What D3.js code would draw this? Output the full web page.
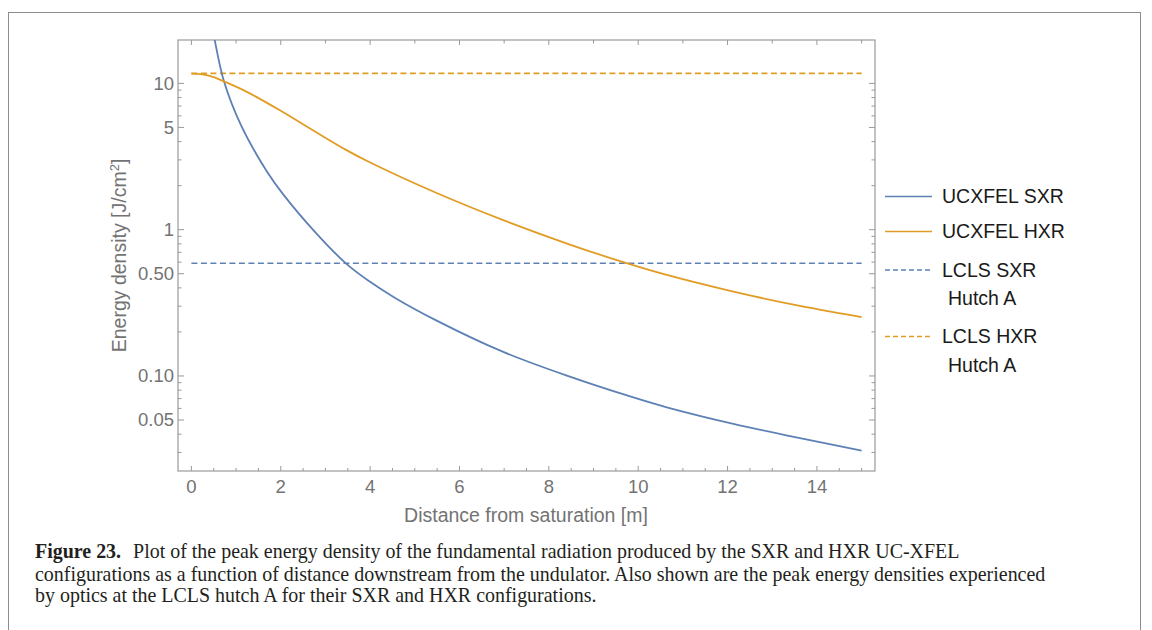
<!DOCTYPE html>
<html lang="en">
<head>
<meta charset="UTF-8">
<title>Peak energy density vs distance from saturation</title>
<script src="https://d3js.org/d3.v7.min.js"></script>
<style>
    body { margin: 0; background: #fff; }
    .tick-label { font-family: "Liberation Sans", Arial, sans-serif; font-size: 18.5px; fill: #737373; }
    .axis-title { font-family: "Liberation Sans", Arial, sans-serif; font-size: 19.5px; fill: #737373; }
    .legend-text { font-family: "Liberation Sans", Arial, sans-serif; font-size: 19.5px; fill: #1a1a1a; }
    .caption { font-family: "Liberation Serif", "Times New Roman", serif; fill: #231f20; }
</style>
</head>
<body>
<svg width="1152" height="630"></svg>
<script>
// distance from saturation [m] and energy density [J/cm^2]
var sxrDist = [0.45, 0.52, 0.73, 1.12, 1.69, 2.05, 2.80, 3.47, 3.99, 4.55, 5.49, 6.98, 8.47, 9.82, 10.64, 12.13, 13.62, 15.0];
var sxrDensity = [26, 19.9, 10.3, 5.1, 2.50, 1.75, 0.94, 0.584, 0.442, 0.343, 0.239, 0.146, 0.0989, 0.0724, 0.061, 0.047, 0.0376, 0.0309];

var hxrDist = [0, 0.25, 0.48, 0.75, 1.23, 1.98, 2.72, 3.47, 3.99, 5.49, 6.98, 8.47, 9.74, 10.64, 12.13, 13.62, 15.0];
var hxrDensity = [11.67, 11.53, 11.09, 10.26, 8.79, 6.55, 4.78, 3.50, 2.89, 1.78, 1.161, 0.791, 0.590, 0.490, 0.377, 0.301, 0.252];

// LCLS hutch A reference levels (flat lines over the whole range)
var lclsDist = [0, 15];
var lclsSxr = 0.59;
var lclsHxr = 11.7;

var xTicks = [0, 2, 4, 6, 8, 10, 12, 14];
var yTicks = [0.05, 0.1, 0.5, 1, 5, 10];
var yTickLabels = ["0.05", "0.10", "0.50", "1", "5", "10"];

var legendNames = [["UCXFEL SXR"], ["UCXFEL HXR"], ["LCLS SXR", "Hutch A"], ["LCLS HXR", "Hutch A"]];

var captionLines = [
    "Plot of the peak energy density of the fundamental radiation produced by the SXR and HXR UC-XFEL",
    "configurations as a function of distance downstream from the undulator. Also shown are the peak energy densities experienced",
    "by optics at the LCLS hutch A for their SXR and HXR configurations."
];

var blue = "#5e81b5", orange = "#e19c24", frameColor = "#9a9a9a";

var svg = d3.select("svg");

// outer figure box
svg.append("rect")
    .attr("x", 8.5).attr("y", 12.5)
    .attr("width", 1132).attr("height", 700)
    .attr("fill", "none").attr("stroke", "#8c8c8c").attr("stroke-width", 1);

var plot = {left: 178, right: 875, top: 40, bottom: 471};

var xScale = d3.scaleLinear().domain([-0.3, 15.3]).range([plot.left, plot.right]);
var yScale = d3.scaleLog().domain([0.0224, 19.8]).range([plot.bottom, plot.top]);

// clip the curves to the frame
svg.append("clipPath").attr("id", "plotclip")
    .append("rect")
    .attr("x", plot.left).attr("y", plot.top)
    .attr("width", plot.right - plot.left).attr("height", plot.bottom - plot.top);

// frame ticks, Mathematica style (pointing inward)
var minorX = d3.range(0, 15.01, 0.5).filter(function(d) { return d % 2 !== 0; });
var topX = d3.range(0, 16, 1);
var logTicks = [];
[0.01, 0.1, 1, 10].forEach(function(dec) {
    for (var k = 1; k <= 9; k++) {
        var v = +(dec * k).toPrecision(3);
        if (v >= 0.0224 && v <= 19.8) logTicks.push(v);
    }
});

var ticks = svg.append("g").attr("stroke", frameColor).attr("stroke-width", 1);

// bottom
ticks.selectAll(".xmaj").data(xTicks).enter().append("line")
    .attr("x1", function(d) { return xScale(d); }).attr("x2", function(d) { return xScale(d); })
    .attr("y1", plot.bottom).attr("y2", plot.bottom - 5);
ticks.selectAll(".xmin").data(minorX).enter().append("line")
    .attr("x1", function(d) { return xScale(d); }).attr("x2", function(d) { return xScale(d); })
    .attr("y1", plot.bottom).attr("y2", plot.bottom - 3);
// top
ticks.selectAll(".xtop").data(topX).enter().append("line")
    .attr("x1", function(d) { return xScale(d); }).attr("x2", function(d) { return xScale(d); })
    .attr("y1", plot.top).attr("y2", function(d) { return d % 2 === 0 ? plot.top + 5 : plot.top + 3.5; });
// left and right
[plot.left, plot.right].forEach(function(x0, side) {
    var dir = side === 0 ? 1 : -1;
    ticks.selectAll(".y" + side).data(logTicks).enter().append("line")
        .attr("y1", function(d) { return yScale(d); }).attr("y2", function(d) { return yScale(d); })
        .attr("x1", x0)
        .attr("x2", function(d) { return x0 + dir * (yTicks.indexOf(d) >= 0 ? 6 : 3.5); });
});

// frame
svg.append("rect")
    .attr("x", plot.left).attr("y", plot.top)
    .attr("width", plot.right - plot.left).attr("height", plot.bottom - plot.top)
    .attr("fill", "none").attr("stroke", frameColor).attr("stroke-width", 1.2);

// tick labels
svg.selectAll(".xlab").data(xTicks).enter().append("text")
    .attr("class", "tick-label")
    .attr("x", function(d) { return xScale(d); })
    .attr("y", 492.5)
    .attr("text-anchor", "middle")
    .text(function(d) { return d; });

svg.selectAll(".ylab").data(yTicks).enter().append("text")
    .attr("class", "tick-label")
    .attr("x", 174)
    .attr("y", function(d) { return yScale(d); })
    .attr("dy", "0.35em")
    .attr("text-anchor", "end")
    .text(function(d, i) { return yTickLabels[i]; });

// axis titles
svg.append("text").attr("class", "axis-title")
    .attr("x", 526).attr("y", 521.5)
    .attr("text-anchor", "middle")
    .text("Distance from saturation [m]");

var yt = svg.append("text").attr("class", "axis-title")
    .attr("transform", "translate(126," + ((plot.top + plot.bottom) / 2) + ") rotate(-90)")
    .attr("text-anchor", "middle");
yt.append("tspan").text("Energy density [J/cm");
yt.append("tspan").attr("dy", -7).attr("font-size", "13px").text("2");
yt.append("tspan").attr("dy", 7).text("]");

// curves
var line = d3.line()
    .x(function(d) { return xScale(d[0]); })
    .y(function(d) { return yScale(d[1]); })
    .curve(d3.curveCatmullRom.alpha(0.5));

var curves = svg.append("g").attr("clip-path", "url(#plotclip)").attr("fill", "none");

curves.append("path")
    .datum(lclsDist.map(function(d) { return [d, lclsSxr]; }))
    .attr("d", line).attr("stroke", blue).attr("stroke-width", 1.6).attr("stroke-dasharray", "6,3.5");
curves.append("path")
    .datum(lclsDist.map(function(d) { return [d, lclsHxr]; }))
    .attr("d", line).attr("stroke", orange).attr("stroke-width", 1.6).attr("stroke-dasharray", "6,3.5");
curves.append("path")
    .datum(sxrDist.map(function(d, i) { return [d, sxrDensity[i]]; }))
    .attr("d", line).attr("stroke", blue).attr("stroke-width", 1.8);
curves.append("path")
    .datum(hxrDist.map(function(d, i) { return [d, hxrDensity[i]]; }))
    .attr("d", line).attr("stroke", orange).attr("stroke-width", 1.8);

// legend
var legendY = [196.5, 231.5, 270, 336.5];
var legendColor = [blue, orange, blue, orange];
var legendDash = [null, null, "5,3", "5,3"];
var lg = svg.append("g");
legendNames.forEach(function(names, i) {
    lg.append("line")
        .attr("x1", 885).attr("x2", 932)
        .attr("y1", legendY[i]).attr("y2", legendY[i])
        .attr("stroke", legendColor[i]).attr("stroke-width", 1.6)
        .attr("stroke-dasharray", legendDash[i]);
    names.forEach(function(n, j) {
        lg.append("text").attr("class", "legend-text")
            .attr("x", j === 0 ? 942 : 948)
            .attr("y", legendY[i] + j * 28.5)
            .attr("dy", "0.35em")
            .text(n);
    });
});

// caption
var cap = svg.append("g").attr("class", "caption");
var capY = [557.5, 580.5, 602];
var probe = cap.append("text").attr("font-size", "16px").text(captionLines[1]);
var capSize = 16 * 1011 / probe.node().getComputedTextLength();
probe.remove();

captionLines.forEach(function(t, i) {
    var tx = cap.append("text")
        .attr("x", 35).attr("y", capY[i])
        .attr("font-size", capSize + "px");
    if (i === 0) {
        tx.append("tspan").attr("font-weight", "bold").text("Figure 23.");
        tx.append("tspan").attr("dx", capSize * 0.6).text(t);
    } else {
        tx.text(t);
    }
});
</script>
</body>
</html>
